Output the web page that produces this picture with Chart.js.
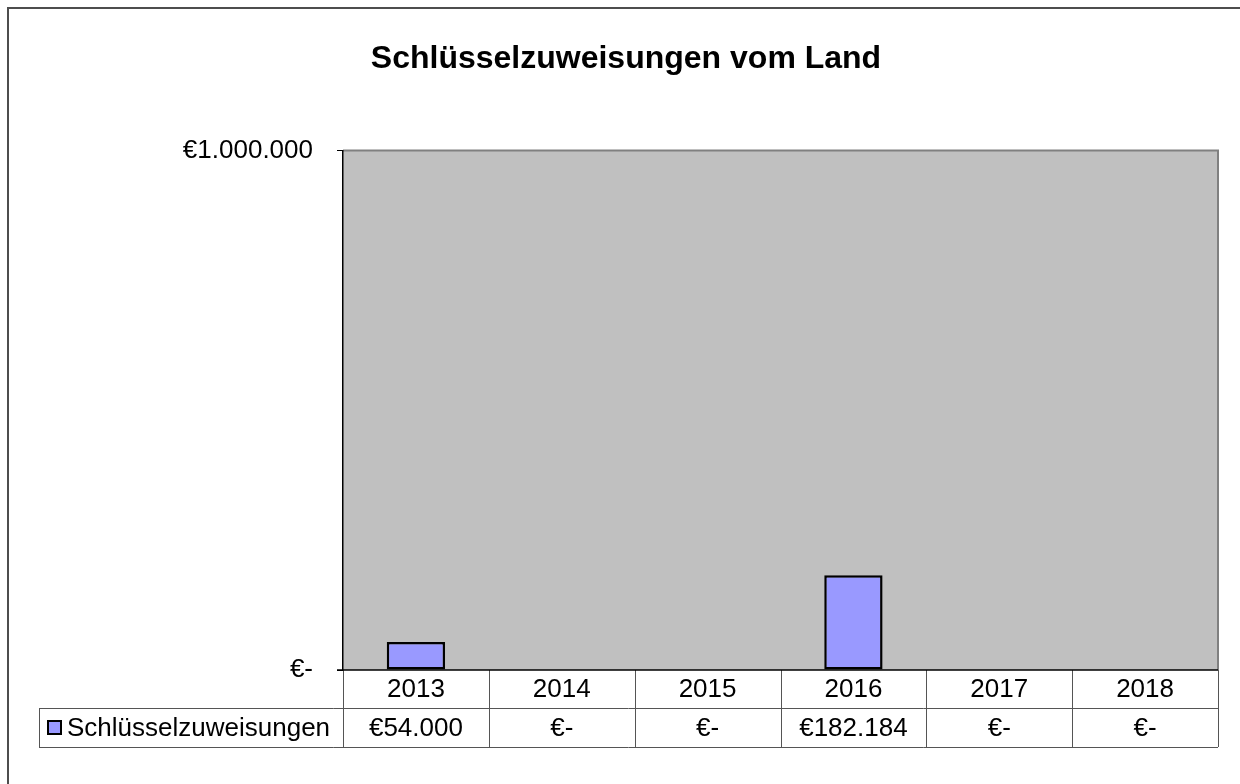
<!DOCTYPE html>
<html>
<head>
<meta charset="utf-8">
<script src="https://cdn.jsdelivr.net/npm/chart.js@4.4.0/dist/chart.umd.min.js"></script>
<style>
  html, body { margin: 0; padding: 0; background: #fff; }
  #wrap { width: 1240px; height: 784px; }
</style>
</head>
<body>
<div id="wrap"><canvas id="chart" width="1240" height="784"></canvas></div>
<script>
var years = ['2013', '2014', '2015', '2016', '2017', '2018'];
var seriesName = 'Schlüsselzuweisungen';
var values = [54000, 0, 0, 182184, 0, 0];
var yMin = 0;
var yMax = 1000000;

var font = 'Liberation Sans, Arial, sans-serif';

// german style euro format, zero shown as "€-"
function euro(v) {
    if (v === 0) return '€-';
    return '€' + String(Math.round(v)).replace(/\B(?=(\d{3})+(?!\d))/g, '.');
}

// grey plot area with frame, plus outer border of the whole chart
var plotBg = {
    id: 'plotBg',
    beforeDraw: function(chart) {
        var ctx = chart.ctx, a = chart.chartArea;
        ctx.save();
        ctx.strokeStyle = '#4d4d4d';
        ctx.lineWidth = 2;
        ctx.strokeRect(8, 8, 1400, 1000);
        ctx.fillStyle = '#c0c0c0';
        ctx.fillRect(a.left, a.top, a.right - a.left, a.bottom - a.top);
        ctx.strokeStyle = '#808080';
        ctx.lineWidth = 2;
        ctx.beginPath();
        ctx.moveTo(a.left, a.top);
        ctx.lineTo(a.right, a.top);
        ctx.lineTo(a.right, a.bottom);
        ctx.stroke();
        ctx.restore();
    }
};

// data table under the plot: year row and series row
var dataTable = {
    id: 'dataTable',
    afterDraw: function(chart) {
        var ctx = chart.ctx, a = chart.chartArea, x = chart.scales.x;
        var colW = (a.right - a.left) / years.length;
        var row1 = a.bottom, row2 = a.bottom + 38, row3 = a.bottom + 77;
        var legendLeft = 39;
        ctx.save();
        ctx.strokeStyle = '#555';
        ctx.lineWidth = 1;
        ctx.beginPath();
        for (var i = 0; i <= years.length; i++) {
            var bx = Math.round(a.left + i * colW) + 0.5;
            ctx.moveTo(bx, row1);
            ctx.lineTo(bx, row3);
        }
        ctx.moveTo(legendLeft + 0.5, row2);
        ctx.lineTo(legendLeft + 0.5, row3);
        ctx.moveTo(legendLeft, row2 + 0.5);
        ctx.lineTo(a.right, row2 + 0.5);
        ctx.moveTo(legendLeft, row3 + 0.5);
        ctx.lineTo(a.right, row3 + 0.5);
        ctx.stroke();

        // x axis line
        ctx.strokeStyle = '#000';
        ctx.lineWidth = 1.5;
        ctx.beginPath();
        ctx.moveTo(a.left - 6, a.bottom);
        ctx.lineTo(a.right, a.bottom);
        ctx.stroke();

        ctx.fillStyle = '#000';
        ctx.font = '26px ' + font;
        ctx.textAlign = 'center';
        ctx.textBaseline = 'middle';
        years.forEach(function(y, i) {
            var cx = x.getPixelForValue(i);
            ctx.fillText(y, cx, (row1 + row2) / 2 + 1);
            ctx.fillText(euro(values[i]), cx, (row2 + row3) / 2 + 1);
        });

        // legend key
        ctx.fillStyle = '#9999ff';
        ctx.fillRect(48, 721, 13, 13);
        ctx.strokeStyle = '#000';
        ctx.lineWidth = 2;
        ctx.strokeRect(48, 721, 13, 13);
        ctx.fillStyle = '#000';
        ctx.textAlign = 'left';
        ctx.fillText(seriesName, 67, (row2 + row3) / 2 + 1);
        ctx.restore();
    }
};

var ctx = document.getElementById('chart').getContext('2d');
var chart = new Chart(ctx, {
    type: 'bar',
    data: {
        labels: years,
        datasets: [{
            label: seriesName,
            data: values,
            backgroundColor: '#9999ff',
            borderColor: '#000',
            borderWidth: 2.5,
            borderSkipped: false,
            barPercentage: 0.4,
            categoryPercentage: 1.0
        }]
    },
    options: {
        responsive: false,
        animation: false,
        layout: {
            padding: { left: 34, right: 22, top: 0, bottom: 114 }
        },
        plugins: {
            legend: { display: false },
            tooltip: { enabled: false },
            title: {
                display: true,
                text: 'Schlüsselzuweisungen vom Land',
                color: '#000',
                font: { family: font, size: 32, weight: 'bold' },
                padding: { top: 40, bottom: 72 }
            }
        },
        scales: {
            x: {
                display: false
            },
            y: {
                min: yMin,
                max: yMax,
                afterFit: function(scale) { scale.width = 309; },
                ticks: {
                    stepSize: 1000000,
                    color: '#000',
                    padding: 24,
                    font: { family: font, size: 26 },
                    callback: function(v) { return euro(v); }
                },
                grid: {
                    drawOnChartArea: false,
                    drawTicks: true,
                    tickLength: 6,
                    color: '#000'
                },
                border: { color: '#000', width: 1.5 }
            }
        }
    },
    plugins: [plotBg, dataTable]
});
</script>
</body>
</html>
